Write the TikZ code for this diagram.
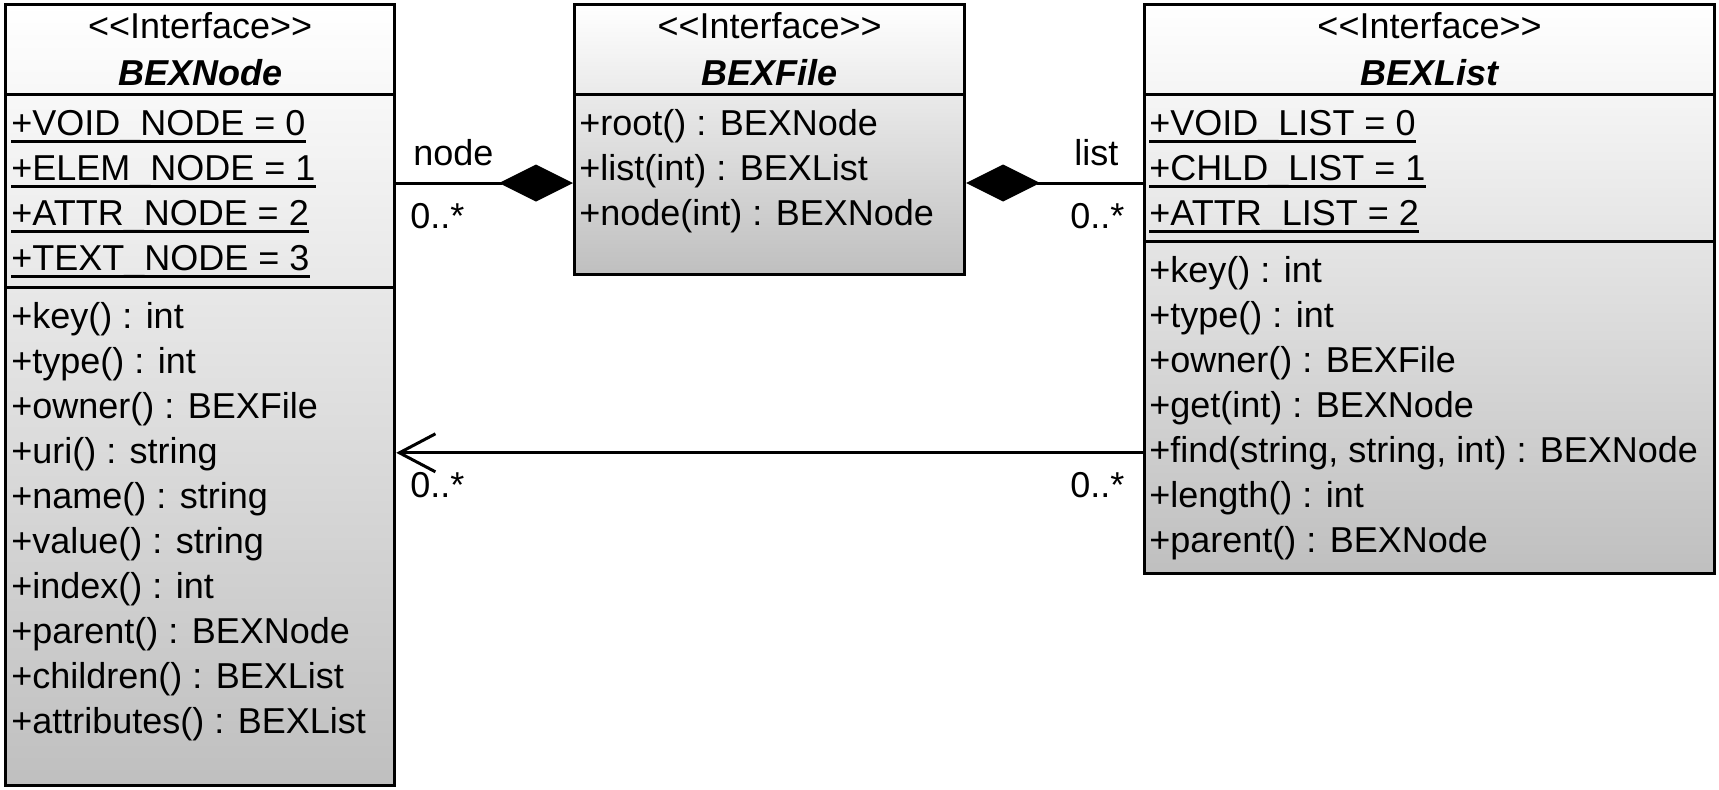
\documentclass[tikz,border=0pt]{standalone}
\usepackage{fontspec}
\newfontfamily\umlfont{Liberation Sans}
\usetikzlibrary{arrows.meta,fit}

% static members are underlined
\newcommand\statattr[1]{\setbox0\hbox{#1}\rlap{\rule[-0.22em]{\wd0}{0.075em}}\box0}

\begin{document}
\begin{tikzpicture}[x=0.5pt, y=-0.5pt,
    classbox/.style={draw, line width=1.5pt, inner sep=0pt, top color=white, bottom color=black!25},
    divider/.style={line width=1.5pt},
    member/.style={font=\umlfont\fontsize{18}{22.5}\selectfont, anchor=base west, inner sep=0pt},
    classhead/.style={member, anchor=base},
    classname/.style={classhead, font=\umlfont\fontsize{18}{22.5}\selectfont\bfseries\itshape},
    conn/.style={line width=1.5pt}]
    \useasboundingbox (0,0) rectangle (1719,789);

    % BEXNode
    \node[classbox, fit={(5.5,4.4) (394.7,785)}] (bexnode) {};
    \draw[divider] (bexnode.west |- 0,94.3) -- (bexnode.east |- 0,94.3);
    \draw[divider] (bexnode.west |- 0,287.2) -- (bexnode.east |- 0,287.2);
    \node[classhead] (bexnodest) at (bexnode.north |- 0,38) {<<Interface>>};
    \node[classname] (bexnodename) at (bexnode.north |- 0,85) {BEXNode};
    \foreach \txt [count=\k] in {VOID\_NODE = 0, ELEM\_NODE = 1, ATTR\_NODE = 2, TEXT\_NODE = 3} {
        \node[member] (bexnodeattr\k) at (11, {90+45*\k}) {\statattr{+\txt}};
    }
    \foreach \txt [count=\k] in {+key() : int, +type() : int, +owner() : BEXFile, +uri() : string,
        +name() : string, +value() : string, +index() : int, +parent() : BEXNode,
        +children() : BEXList, +attributes() : BEXList} {
        \node[member] (bexnodeop\k) at (11, {283+45*\k}) {\txt};
    }

    % BEXFile
    \node[classbox, fit={(574.5,4.4) (964.7,274)}] (bexfile) {};
    \draw[divider] (bexfile.west |- 0,94.3) -- (bexfile.east |- 0,94.3);
    \node[classhead] (bexfilest) at (bexfile.north |- 0,38) {<<Interface>>};
    \node[classname] (bexfilename) at (bexfile.north |- 0,85) {BEXFile};
    \foreach \txt [count=\k] in {+root() : BEXNode, +list(int) : BEXList, +node(int) : BEXNode} {
        \node[member] (bexfileop\k) at (579, {90+45*\k}) {\txt};
    }

    % BEXList
    \node[classbox, fit={(1144.5,4.4) (1714.6,573.4)}] (bexlist) {};
    \draw[divider] (bexlist.west |- 0,94.3) -- (bexlist.east |- 0,94.3);
    \draw[divider] (bexlist.west |- 0,241.2) -- (bexlist.east |- 0,241.2);
    \node[classhead] (bexlistst) at (bexlist.north |- 0,38) {<<Interface>>};
    \node[classname] (bexlistname) at (bexlist.north |- 0,85) {BEXList};
    \foreach \txt [count=\k] in {VOID\_LIST = 0, CHLD\_LIST = 1, ATTR\_LIST = 2} {
        \node[member] (bexlistattr\k) at (1149, {90+45*\k}) {\statattr{+\txt}};
    }
    \foreach \txt [count=\k] in {+key() : int, +type() : int, +owner() : BEXFile, +get(int) : BEXNode,
        {+find(string, string, int) : BEXNode}, +length() : int, +parent() : BEXNode} {
        \node[member] (bexlistop\k) at (1149, {237+45*\k}) {\txt};
    }

    % node
    \draw[conn, {Diamond[length=37pt, width=18.5pt]}-] (bexfile.west |- 0,183) -- (bexnode.east |- 0,183);
    \node[member] (noderole) at (413,165) {node};
    \node[member] (nodemult) at (410,228) {0..*};

    % list
    \draw[conn, {Diamond[length=37pt, width=18.5pt]}-] (bexfile.east |- 0,183) -- (bexlist.west |- 0,183);
    \node[member] (listrole) at (1074,165) {list};
    \node[member] (listmult) at (1070,228) {0..*};

    % get / find
    \draw[conn, -{Straight Barb[length=18pt, width=19pt]}] (bexlist.west |- 0,452.8) -- (bexnode.east |- 0,452.8);
    \node[member] (findmult) at (410,497) {0..*};
    \node[member] (ownermult) at (1070,497) {0..*};
\end{tikzpicture}
\end{document}
